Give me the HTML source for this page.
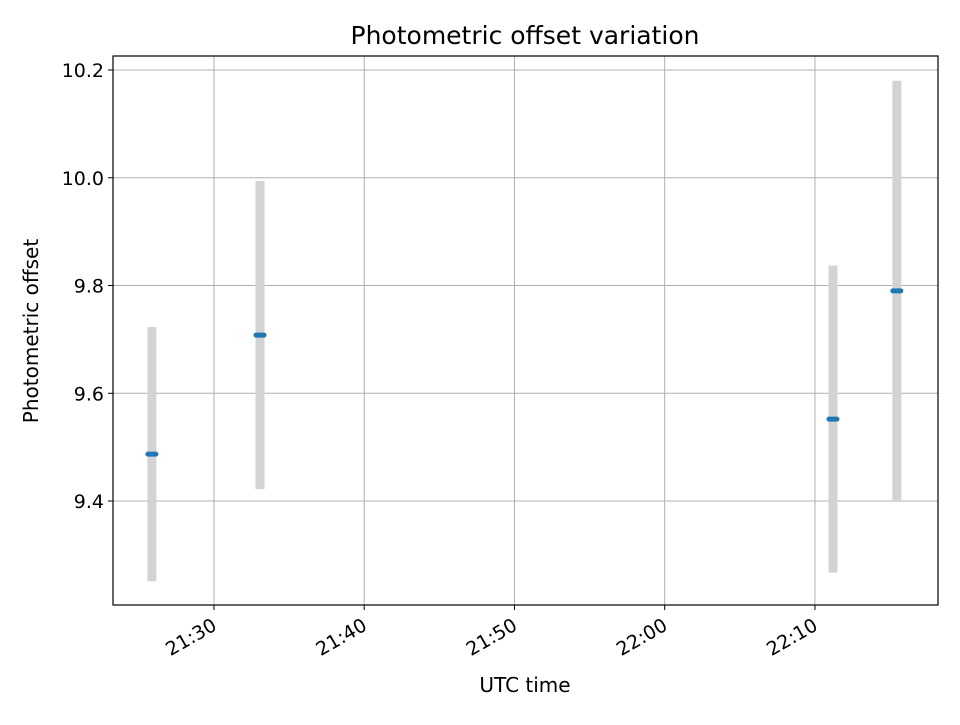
<!DOCTYPE html>
<html><head><meta charset="utf-8"><style>
html,body{margin:0;padding:0;background:#fff}
svg text{font-family:"DejaVu Sans","Liberation Sans",sans-serif;fill:#000}
</style></head><body>
<svg id="chart" width="960" height="720" viewBox="0 0 960 720" xmlns="http://www.w3.org/2000/svg">
<rect width="960" height="720" fill="#fff"/>
<text x="525" y="44" font-size="25" text-anchor="middle">Photometric offset variation</text>
<g id="grid"></g>
<g id="marks"></g>
<rect x="113" y="56" width="825" height="549" fill="none" stroke="#000" stroke-width="1.2"/>
<g id="axes"></g>
<text x="525" y="692" font-size="20" text-anchor="middle">UTC time</text>
<text transform="translate(38,331) rotate(-90)" font-size="20" text-anchor="middle">Photometric offset</text>
</svg>
<script>
const times = ["21:25:52","21:33:04","22:11:12","22:15:27"];
const offsets = [9.487, 9.708, 9.552, 9.790];
const errors = [0.236, 0.286, 0.285, 0.39];
const yTicks = [9.4, 9.6, 9.8, 10.0, 10.2];
const xTickLabels = ["21:30","21:40","21:50","22:00","22:10"];

const NS = "http://www.w3.org/2000/svg";
const L=113,R=938,T=56,B=605;
const xMin=21*3600+23.28*60, xMax=22*3600+18.19*60;
const yMin=9.207, yMax=10.226;
function toSec(s){const p=s.split(":").map(Number);return p[0]*3600+p[1]*60+(p[2]||0);}
const xs=v=>L+(v-xMin)/(xMax-xMin)*(R-L);
const ys=v=>B-(v-yMin)/(yMax-yMin)*(B-T);
function mk(tag,attrs,parent){const e=document.createElementNS(NS,tag);for(const k in attrs)e.setAttribute(k,attrs[k]);parent.appendChild(e);return e;}
const grid=document.getElementById("grid"), axes=document.getElementById("axes"), marks=document.getElementById("marks");

yTicks.forEach(v=>{
  const y=ys(v);
  const g=mk("line",{x1:L,x2:R,y1:y,y2:y,stroke:"#b0b0b0","stroke-width":1},grid);
  
  
  const t=mk("line",{x1:L-5,x2:L,y1:y,y2:y,stroke:"#000","stroke-width":1},axes);
  
  
  const tx=mk("text",{x:L-9,y:y+7,"font-size":"19","text-anchor":"end"},axes);
  tx.textContent=v.toFixed(1);
  
  
});
xTickLabels.forEach(s=>{
  const x=xs(toSec(s));
  const g=mk("line",{x1:x,x2:x,y1:T,y2:B,stroke:"#b0b0b0","stroke-width":1},grid);
  
  
  const t=mk("line",{x1:x,x2:x,y1:B,y2:B+5,stroke:"#000","stroke-width":1},axes);
  
  
  const tx=mk("text",{x:0,y:0,"font-size":"19","text-anchor":"end",transform:`translate(${x+4},${B+24}) rotate(-30)`},axes);
  tx.textContent=s;
  
  
});
times.forEach((s,i)=>{
  const x=xs(toSec(s));
  const eb=mk("line",{x1:x,x2:x,y1:ys(offsets[i]-errors[i]),y2:ys(offsets[i]+errors[i]),stroke:"#d3d3d3","stroke-width":9},marks);
  
  
});
times.forEach((s,i)=>{
  const x=xs(toSec(s)), y=ys(offsets[i]);
  const p=mk("line",{x1:x-4,x2:x+4,y1:y,y2:y,stroke:"#1f77b4","stroke-width":5,"stroke-linecap":"round"},marks);
  
  
});
</script>
</body></html>
